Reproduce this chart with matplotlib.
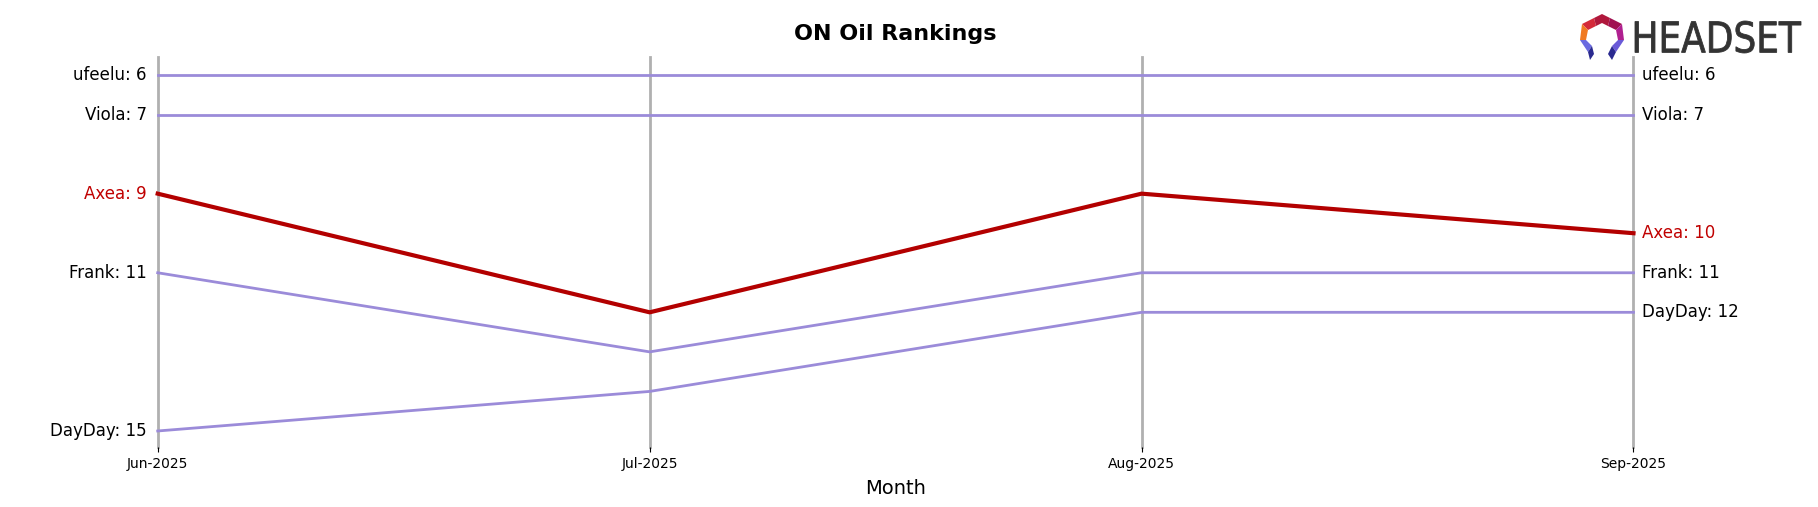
import matplotlib
matplotlib.use("Agg")
import matplotlib.pyplot as plt
from matplotlib.patches import Polygon, PathPatch
from matplotlib.textpath import TextPath
from matplotlib.font_manager import FontProperties
from matplotlib.transforms import Affine2D

months = ["Jun-2025", "Jul-2025", "Aug-2025", "Sep-2025"]
brands = ["ufeelu", "Viola", "Axea", "Frank", "DayDay"]
ranks = {
    "ufeelu": [6, 6, 6, 6],
    "Viola": [7, 7, 7, 7],
    "Axea": [9, 12, 9, 10],
    "Frank": [11, 13, 11, 11],
    "DayDay": [15, 14, 12, 12],
}
highlight = "Axea"

W, H = 1818, 507
fig = plt.figure(figsize=(W / 100, H / 100), dpi=100)
ax = fig.add_axes([157.7 / W, 1 - 447 / H, (1633.5 - 157.7) / W, (447 - 57) / H])

x = list(range(len(months)))
purple = "#9b8bd9"
red = "#b30000"
for xi in x:
    ax.axvline(xi, color="#b0b0b0", lw=2, zorder=1, clip_on=False)

for b in brands:
    if b == highlight:
        ax.plot(x, ranks[b], color=red, lw=3, zorder=3, clip_on=False)
    else:
        ax.plot(x, ranks[b], color=purple, lw=2, zorder=2, clip_on=False)

# labels
for b in brands:
    c = "#c00000" if b == highlight else "black"
    ax.text(-0.022, ranks[b][0], f"{b}: {ranks[b][0]}", ha="right", va="center", fontsize=12, color=c)
    ax.text(x[-1] + 0.018, ranks[b][-1], f"{b}: {ranks[b][-1]}", ha="left", va="center", fontsize=12, color=c)

ax.set_xlim(0, 3)
allv = [v for b in brands for v in ranks[b]]
lo, hi = min(allv), max(allv)
ax.set_ylim(hi + 0.405, lo - 0.455)
ax.set_xticks(x)
ax.set_xticklabels(months, fontsize=10)
ax.set_yticks([])
for s in ax.spines.values():
    s.set_visible(False)
ax.set_xlabel("Month", fontsize=14, labelpad=6)
ax.set_title("ON Oil Rankings", fontsize=16, fontweight="bold", pad=12)

# logo icon
lax = fig.add_axes([1578 / W, 1 - 60 / H, 48 / W, 46 / H])
lax.set_xlim(0, 48)
lax.set_ylim(46, 0)
lax.axis("off")
polys = [
    ([(4, 10), (16, 4), (18, 12), (10, 16)], "#d42a3a"),
    ([(16, 4), (24, 0), (32, 4), (30, 12), (24, 9), (18, 12)], "#b0183c"),
    ([(32, 4), (44, 10), (38, 16), (30, 12)], "#a01050"),
    ([(44, 10), (46, 26), (40, 26), (38, 16)], "#b02090"),
    ([(4, 10), (10, 16), (8, 26), (2, 26)], "#f07a22"),
    ([(2, 26), (8, 26), (14, 32), (10, 38)], "#6a6ae0"),
    ([(10, 38), (14, 32), (16, 40), (12, 46)], "#2a2a90"),
    ([(46, 26), (40, 26), (34, 32), (38, 38)], "#6a5ad8"),
    ([(38, 38), (34, 32), (30, 40), (34, 46)], "#2a2a90"),
]
for pts, col in polys:
    lax.add_patch(Polygon(pts, closed=True, color=col, lw=0))

# logo wordmark, squeezed horizontally
tax = fig.add_axes([0, 0, 1, 1], zorder=-1)
tax.set_xlim(0, W)
tax.set_ylim(0, H)
tax.axis("off")
tp = TextPath((0, 0), "HEADSET", size=1, prop=FontProperties(family="DejaVu Sans"))
ext = tp.get_extents()
sx = 166 / ext.width
sy = 32 / ext.height
tr = Affine2D().translate(-ext.x0, -ext.y0).scale(sx, sy).translate(1635, H - 53)
tax.add_patch(PathPatch(tr.transform_path(tp), color="#333333", lw=0.6))

fig.savefig("out.png", dpi=100)
